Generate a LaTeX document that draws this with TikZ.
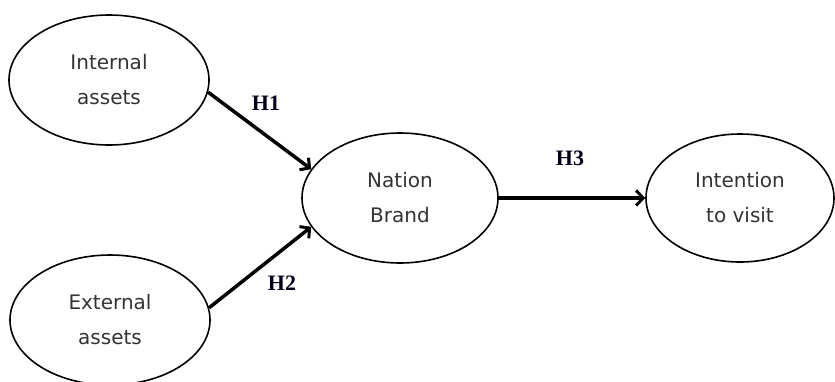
\documentclass[tikz,border=0pt]{standalone}
\usepackage{fontspec}
\setmainfont{DejaVu Sans}
\newfontfamily\labfont{Liberation Serif}
\usetikzlibrary{shapes.geometric,arrows.meta}
\begin{document}
\begin{tikzpicture}[x=1pt,y=-1pt,
  oval/.style={ellipse,draw=black,line width=1.6pt,inner sep=0pt,
    font=\fontsize{20}{35}\selectfont,text=black!80,align=center},
  link/.style={line width=3.5pt,-{Straight Barb[length=7pt,width=15pt,line width=3pt]}},
  hyp/.style={font=\labfont\bfseries\fontsize{22}{22}\selectfont,text=black!90!blue}]
\useasboundingbox (0,0) rectangle (835,381);
\node[oval,minimum width=200pt,minimum height=130pt] (int) at (109,80) {Internal\\assets};
\node[oval,minimum width=200pt,minimum height=130pt] (ext) at (110,320) {External\\assets};
\node[oval,minimum width=196pt,minimum height=130pt] (nat) at (400,198) {Nation\\Brand};
\node[oval,minimum width=188pt,minimum height=128pt] (itv) at (740,198) {Intention\\to visit};
\draw[link] (int.-7.5) -- (nat.162);
\draw[link] (ext.7) -- (nat.198.6);
\draw[link] (nat.east) -- (itv.west);
\node[hyp] (h1) at (266,103) {H1};
\node[hyp] (h2) at (282,283) {H2};
\node[hyp] (h3) at (570,158) {H3};
\end{tikzpicture}
\end{document}
